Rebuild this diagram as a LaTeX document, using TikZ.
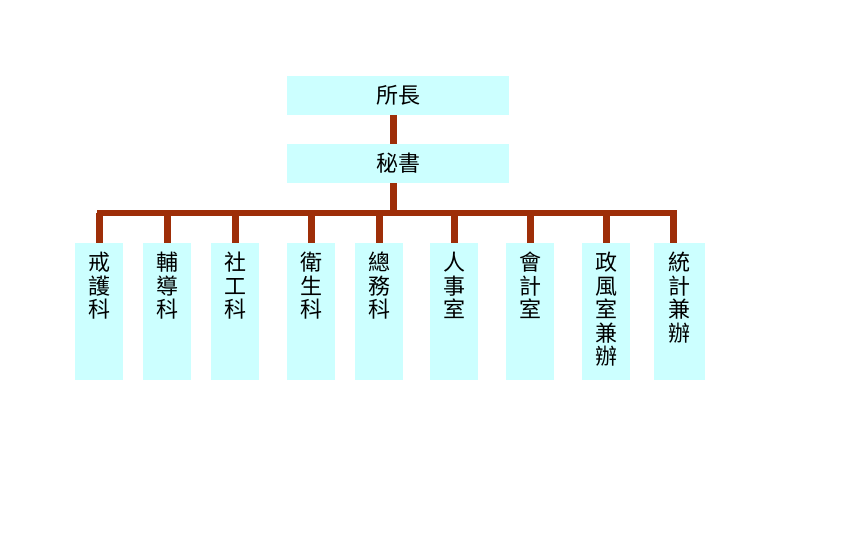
\documentclass[tikz,border=0pt]{standalone}
\usepackage{fontspec}
\newfontfamily\cjk{Noto Sans CJK TC}
\definecolor{boxfill}{RGB}{204,255,255}
\definecolor{conncol}{RGB}{158,46,8}
\begin{document}
\begin{tikzpicture}[x=1pt,y=-1pt,
  topbox/.style={fill=boxfill,draw=none,minimum width=222pt,minimum height=39pt,inner sep=0pt,font=\cjk\fontsize{22}{23.5}\selectfont},
  unitbox/.style={fill=boxfill,draw=none,minimum width=48pt,minimum height=137pt,inner sep=0pt},
  unittext/.style={anchor=north,inner sep=0pt,align=center,font=\cjk\fontsize{22}{23.5}\selectfont},
  conn/.style={draw=conncol,line width=7pt},
  bus/.style={draw=conncol,line width=6pt,line cap=rect}]
\useasboundingbox[fill=white] (0,0) rectangle (864,540);
\node[topbox] (chief) at (398,95.5) {所長};
\node[topbox] (secr) at (398,163.5) {秘書};
\coordinate (busL) at (99.5,212.5);
\coordinate (busR) at (673.5,212.5);
\coordinate (busM) at (393.5,212.5);
% unit boxes
\node[unitbox] (b1) at (99,311.5) {};
\node[unitbox] (b2) at (167,311.5) {};
\node[unitbox] (b3) at (235,311.5) {};
\node[unitbox] (b4) at (311,311.5) {};
\node[unitbox] (b5) at (379,311.5) {};
\node[unitbox] (b6) at (454,311.5) {};
\node[unitbox] (b7) at (530,311.5) {};
\node[unitbox] (b8) at (606,311.5) {};
\node[unitbox,minimum width=51pt] (b9) at (679.5,311.5) {};
% texts
\node[unittext] (t1) at (99,252) {戒\\護\\科};
\node[unittext] (t2) at (167,252) {輔\\導\\科};
\node[unittext] (t3) at (235,252) {社\\工\\科};
\node[unittext] (t4) at (311,252) {衛\\生\\科};
\node[unittext] (t5) at (379,252) {總\\務\\科};
\node[unittext] (t6) at (454,252) {人\\事\\室};
\node[unittext] (t7) at (530,252) {會\\計\\室};
\node[unittext] (t8) at (606,252) {政\\風\\室\\兼\\辦};
\node[unittext] (t9) at (679.5,252) {統\\計\\兼\\辦};
% connectors
\draw[conn] (chief.south -| busM) -- (secr.north -| busM);
\draw[conn] (secr.south -| busM) -- (busM);
\draw[bus] (busL) -- (busR);
\draw[conn] (busL) -- (busL |- b1.north);
\foreach \b/\x in {b2/167,b3/235,b4/311,b5/379,b6/454,b7/530,b8/606}{
  \draw[conn] (\x,212.5) -- (\b.north -| {(\x,0)});
}
\draw[conn] (busR) -- (busR |- b9.north);
\end{tikzpicture}
\end{document}
